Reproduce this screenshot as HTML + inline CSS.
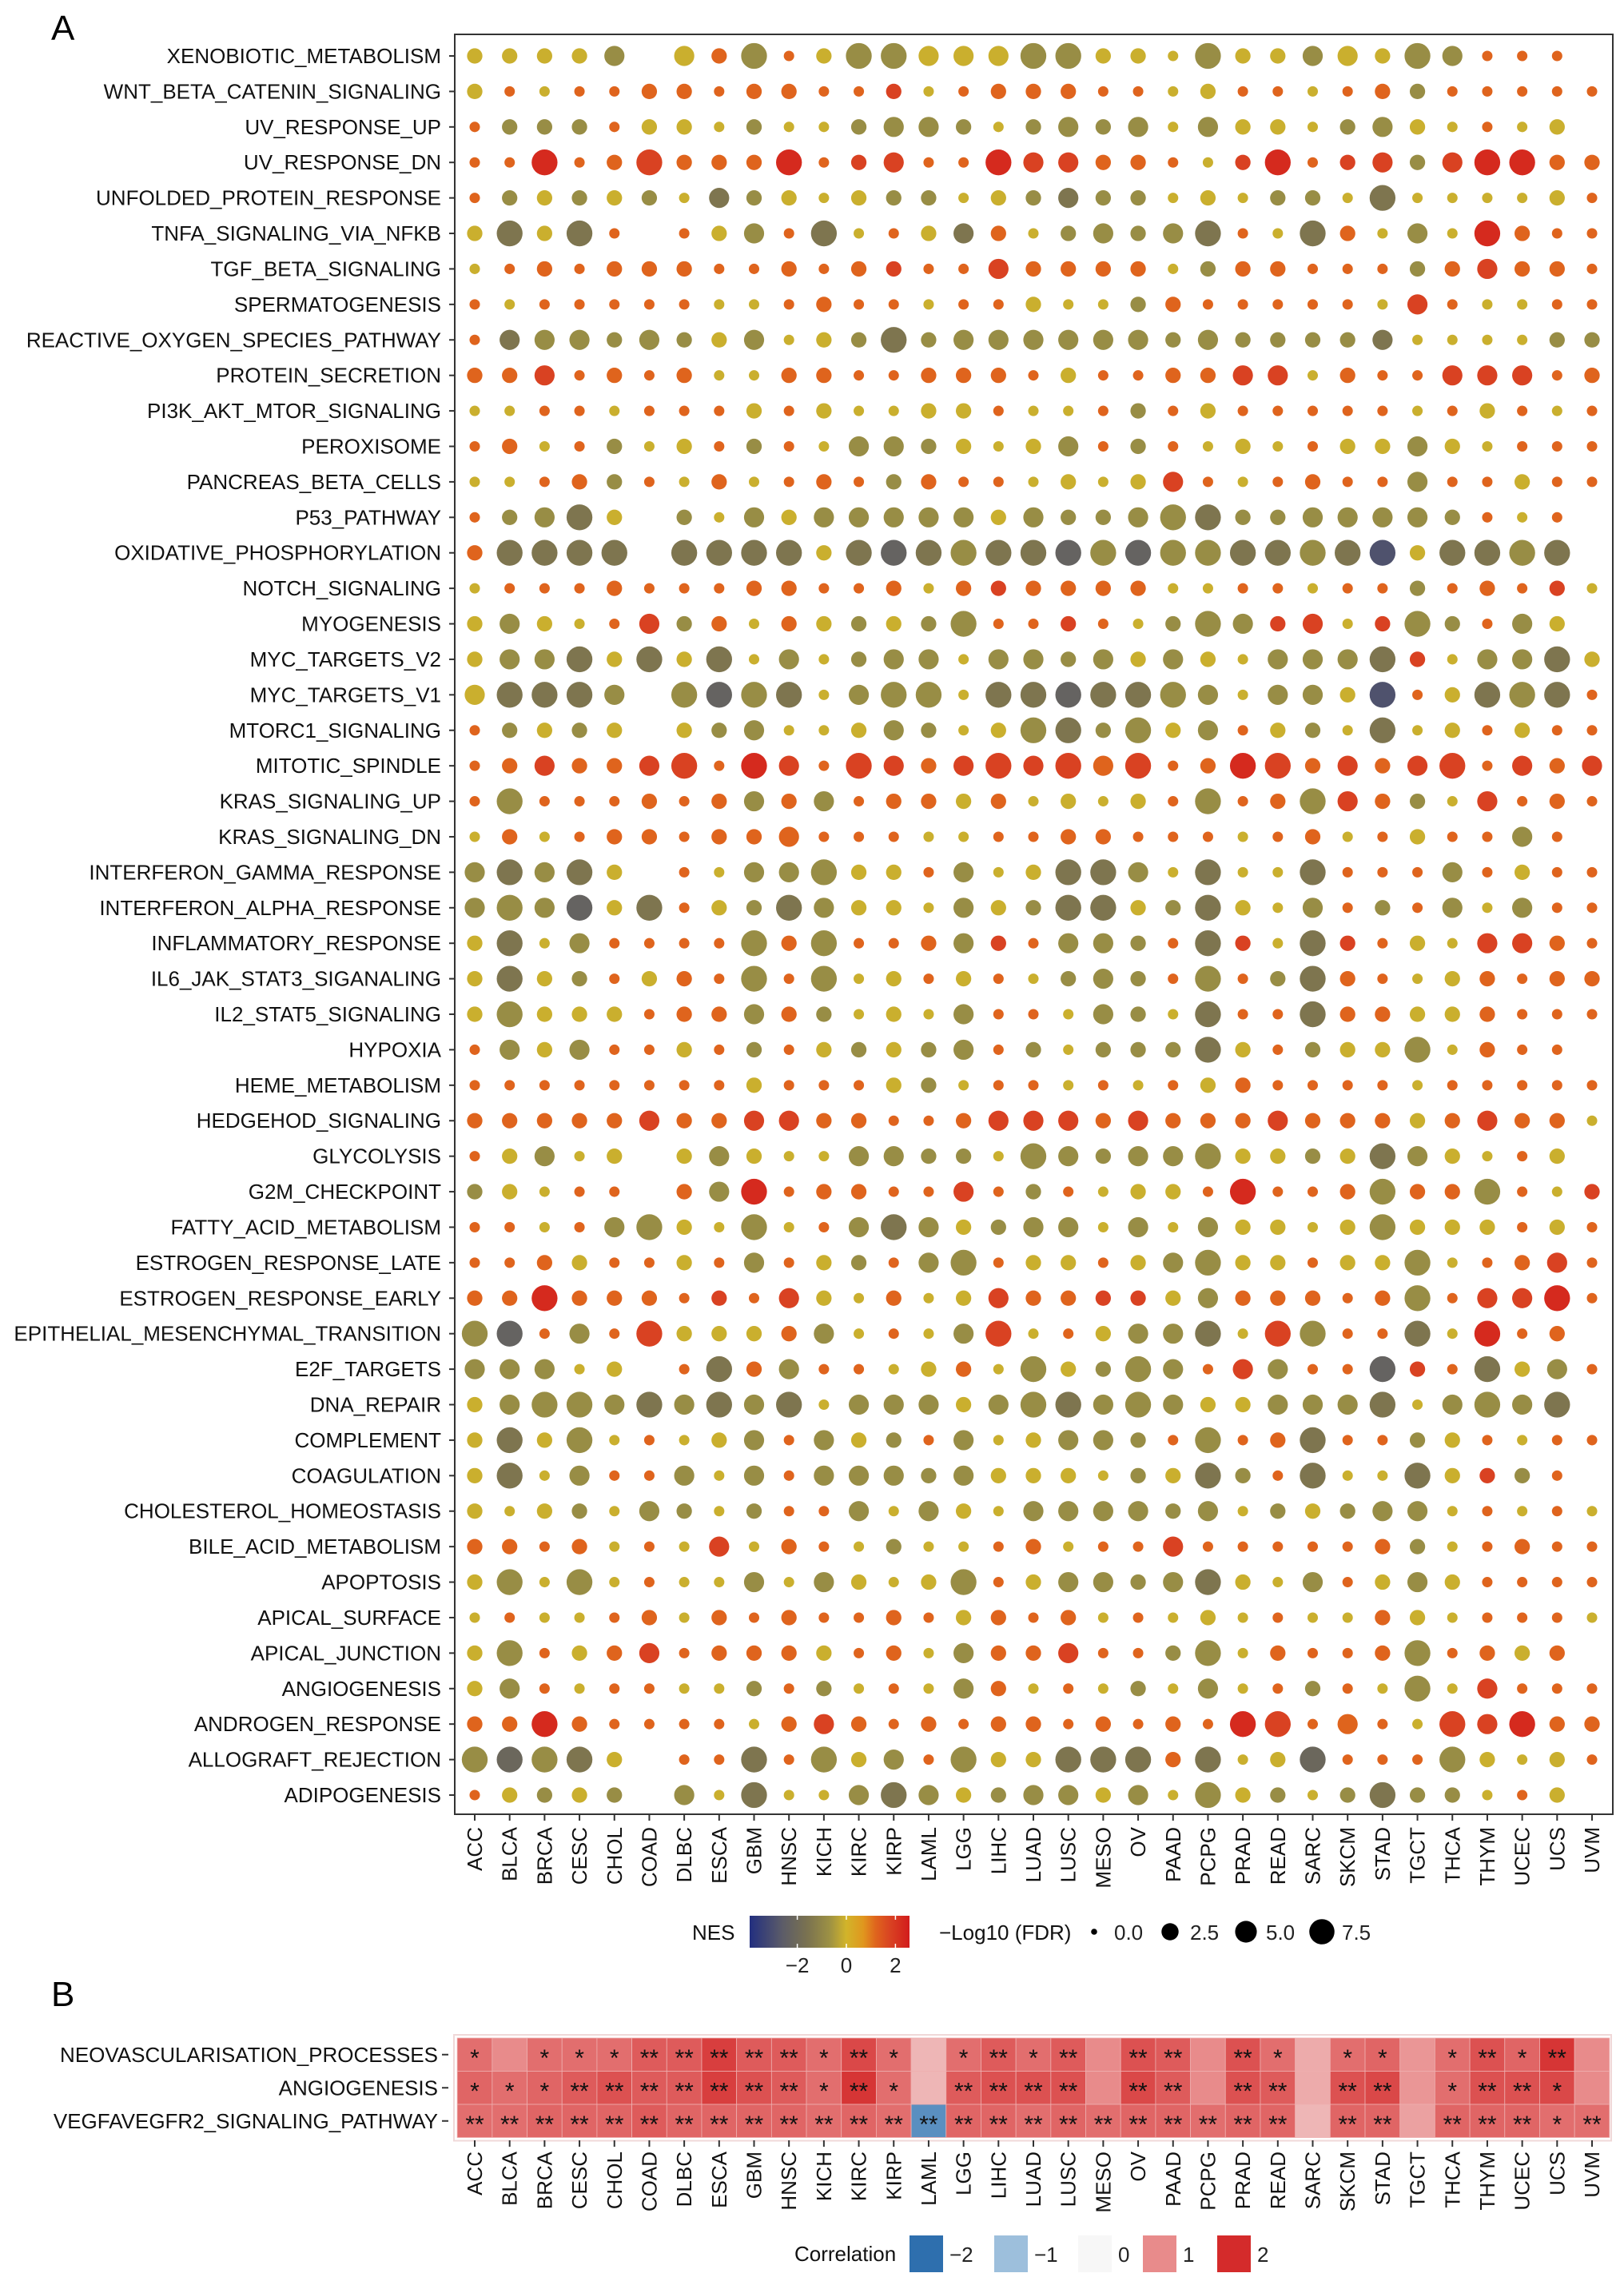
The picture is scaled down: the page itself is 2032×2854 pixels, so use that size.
<!DOCTYPE html>
<html><head><meta charset="utf-8">
<style>
html,body{margin:0;padding:0;background:#fff;}
svg{display:block;font-family:"Liberation Sans",sans-serif;}
</style></head>
<body>
<svg id="fig" width="2032" height="2854" viewBox="0 0 2032 2854" xmlns="http://www.w3.org/2000/svg">
<rect width="2032" height="2854" fill="#fff"/>
<text x="64" y="50" font-size="44">A</text>
<text x="64" y="2510" font-size="44">B</text>
<g id="gA"></g>
<g id="gB"></g>
<g id="gL"></g>
</svg>
<script>
const cancers = ["ACC","BLCA","BRCA","CESC","CHOL","COAD","DLBC","ESCA","GBM","HNSC","KICH","KIRC","KIRP","LAML","LGG","LIHC","LUAD","LUSC","MESO","OV","PAAD","PCPG","PRAD","READ","SARC","SKCM","STAD","TGCT","THCA","THYM","UCEC","UCS","UVM"];
const pathways = ["XENOBIOTIC_METABOLISM","WNT_BETA_CATENIN_SIGNALING","UV_RESPONSE_UP","UV_RESPONSE_DN","UNFOLDED_PROTEIN_RESPONSE","TNFA_SIGNALING_VIA_NFKB","TGF_BETA_SIGNALING","SPERMATOGENESIS","REACTIVE_OXYGEN_SPECIES_PATHWAY","PROTEIN_SECRETION","PI3K_AKT_MTOR_SIGNALING","PEROXISOME","PANCREAS_BETA_CELLS","P53_PATHWAY","OXIDATIVE_PHOSPHORYLATION","NOTCH_SIGNALING","MYOGENESIS","MYC_TARGETS_V2","MYC_TARGETS_V1","MTORC1_SIGNALING","MITOTIC_SPINDLE","KRAS_SIGNALING_UP","KRAS_SIGNALING_DN","INTERFERON_GAMMA_RESPONSE","INTERFERON_ALPHA_RESPONSE","INFLAMMATORY_RESPONSE","IL6_JAK_STAT3_SIGANALING","IL2_STAT5_SIGNALING","HYPOXIA","HEME_METABOLISM","HEDGEHOD_SIGNALING","GLYCOLYSIS","G2M_CHECKPOINT","FATTY_ACID_METABOLISM","ESTROGEN_RESPONSE_LATE","ESTROGEN_RESPONSE_EARLY","EPITHELIAL_MESENCHYMAL_TRANSITION","E2F_TARGETS","DNA_REPAIR","COMPLEMENT","COAGULATION","CHOLESTEROL_HOMEOSTASIS","BILE_ACID_METABOLISM","APOPTOSIS","APICAL_SURFACE","APICAL_JUNCTION","ANGIOGENESIS","ANDROGEN_RESPONSE","ALLOGRAFT_REJECTION","ADIPOGENESIS"];
// cell codes: letter = NES level, digit = -log10(FDR) level, '-' = missing
const nesLevels = {B:-2.9,n:-2.3,G:-2.1,g:-1.5,k:-0.8,y:-0.1,o:1.2,r:1.8,R:2.3};
const fdrLevels = [0.3,1.5,3.5,7];
const cellRows = [
"y1 y1 y1 y1 k2 - y2 o1 k3 o0 y1 k3 k3 y2 y2 y2 k3 k3 y1 y1 y0 k3 y1 y1 k2 y2 y1 k3 k2 o0 o0 o0 -",
"y1 o0 y0 o0 o0 o1 o1 o0 o1 o1 o0 o0 r1 y0 o0 o1 o1 o1 o0 o0 y0 y1 o0 o0 y0 o0 o1 k1 o0 o0 o0 o0 o0",
"o0 k1 k1 k1 o0 y1 y1 y0 k1 y0 y0 k1 k2 k2 k1 y0 k1 k2 k1 k2 y0 k2 y1 y1 y0 k1 k2 y1 y0 o0 y0 y1 -",
"o0 o0 R3 o0 o1 r3 o1 o1 o1 R3 o0 r1 r2 o0 o0 R3 r2 r2 o1 o1 o0 y0 r1 R3 o0 r1 r2 k1 r2 R3 R3 o1 o1",
"o0 k1 y1 k1 y1 k1 y0 g2 k1 y1 y0 y1 k1 k1 y0 y1 k1 g2 k1 k1 y0 y1 y0 k1 k1 y0 g3 y0 y0 y0 y0 y1 o0",
"y1 g3 y1 g3 o0 - o0 y1 k2 o0 g3 y0 o0 y1 g2 o1 y0 k1 k2 k1 k2 g3 o0 y0 g3 o1 y0 k2 y0 R3 o1 o0 o0",
"y0 o0 o1 o0 o1 o1 o1 o0 o0 o1 o0 o1 r1 o0 o0 r2 o1 o1 o1 o1 y0 k1 o1 o1 o0 o0 o0 k1 o1 r2 o1 o1 o0",
"o0 y0 o0 o0 o0 o0 o0 y0 y0 o0 o1 o0 o0 y0 o0 o0 y1 y0 y0 k1 o1 o0 o0 o0 o0 o0 y0 r2 o0 y0 y0 o0 o0",
"o0 g2 k2 k2 k1 k2 k1 y1 k2 y0 y1 k1 g3 k1 k2 k2 k2 k2 k2 k2 k1 k2 k1 k1 k1 k1 g2 y0 y0 y0 y0 k1 k1",
"o1 o1 r2 o0 o1 o0 o1 y0 y0 o1 o1 o0 o0 o1 o1 o1 o0 y1 o0 o0 o1 o1 r2 r2 y0 o1 o0 o0 r2 r2 r2 o0 o1",
"y0 y0 o0 o0 y0 o0 o0 o0 y1 o0 y1 y0 y0 y1 y1 o0 y0 y0 o0 k1 o0 y1 o0 o0 o0 o0 o0 y0 o0 y1 o0 y0 o0",
"o0 o1 y0 o0 k1 y0 y1 o0 k1 o0 y0 k2 k2 k1 y1 y0 y1 k2 o0 k1 o0 y0 y1 y0 o0 y1 y1 k2 y1 y0 o0 o0 o0",
"y0 y0 o0 o1 k1 o0 y0 o1 y0 o0 o1 o0 k1 o1 o0 o0 y0 y1 y0 y1 r2 o0 y0 o0 o1 o0 o0 k2 o0 o0 y1 o0 o0",
"o0 k1 k2 g3 y1 - k1 y0 k2 y1 k2 k2 k2 k2 k2 y1 k2 k1 k1 k2 k3 g3 k1 k1 k2 k2 k2 k2 k1 o0 y0 o0 -",
"o1 g3 g3 g3 g3 - g3 g3 g3 g3 y1 g3 n3 g3 k3 g3 g3 n3 k3 n3 k3 k3 g3 g3 k3 g3 B3 y1 g3 g3 k3 g3 -",
"y0 o0 o0 o0 o1 o0 o0 o0 o1 o1 o0 o0 o1 y0 o1 r1 o1 o1 o1 o1 y0 y0 o0 o0 y0 o0 o0 k1 o0 o1 o0 r1 y0",
"y1 k2 y1 y0 o0 r2 k1 o1 y0 o1 y1 k1 y1 k1 k3 o0 o0 r1 o0 y0 k1 k3 k2 r1 r2 y0 r1 k3 k1 o0 k2 y1 -",
"y1 k2 k2 g3 y1 g3 y1 g3 y0 k2 y0 k1 k2 k2 y0 k2 k2 k1 k2 y1 k2 y1 y0 k2 k2 k2 g3 r1 y0 k2 k2 g3 y1",
"y2 g3 g3 g3 k2 - k3 n3 k3 g3 y0 k2 k3 k3 y0 g3 g3 n3 g3 g3 k3 k2 y0 k2 k2 y1 B3 o0 y1 g3 k3 g3 o0",
"o0 k1 y1 k1 y1 - y1 k1 k2 y0 y0 y1 k2 k1 y0 y1 k3 g3 k1 k3 y1 k2 o0 y1 k1 y0 g3 y0 y1 o0 y1 o0 o0",
"o0 o1 r2 o1 o1 r2 r3 o0 R3 r2 o0 r3 r2 o1 r2 r3 r2 r3 o2 r3 o0 o1 R3 r3 o1 r2 o1 r2 r3 o0 r2 o1 r2",
"o0 k3 o0 o0 o0 o1 o0 o1 k2 o1 k2 o0 o1 o1 y1 o1 y0 y1 y0 y1 o0 k3 o0 o1 k3 r2 o1 k1 y0 r2 o0 o1 o0",
"y0 o1 y0 o0 o1 o1 o0 o1 o1 o2 o0 o0 o0 y0 y0 o0 o0 o1 o1 o0 o0 o0 y0 o0 o1 y0 o0 y1 o0 o0 k2 o0 -",
"k2 g3 k2 g3 y1 - o0 y0 k2 k2 k3 y1 y1 o0 k2 y0 y1 g3 g3 k2 y0 g3 y0 y0 g3 o0 o0 o0 k2 o0 y1 o0 o0",
"k2 k3 k2 n3 y1 g3 o0 y1 k1 g3 k2 y1 y1 y0 k2 y1 k1 g3 g3 y1 k1 g3 y1 y0 k2 o0 k1 o0 k2 y0 k2 o0 o0",
"y1 g3 y0 k2 o0 o0 o0 o0 k3 o1 k3 o0 o0 o1 k2 r1 o0 k2 k2 k1 o0 g3 r1 y0 g3 r1 o0 y1 y0 r2 r2 o1 o0",
"y1 g3 y1 k1 o0 y1 o1 o0 k3 o0 k3 y0 y1 o0 y1 o0 y0 k1 k2 k1 o0 k3 o0 k1 g3 o1 o0 y0 y1 o1 o0 o1 o1",
"y1 k3 y1 y1 y1 o0 o1 o1 k2 o1 k1 y0 y1 y0 k2 o0 o0 y0 k2 k1 y0 g3 o0 o0 g3 o1 o1 y1 y1 o1 o0 o0 o0",
"o0 k2 y1 k2 o0 o0 y1 o0 k1 o0 y1 k1 y1 k1 k2 o0 k1 y0 k1 k1 k1 g3 y1 o0 k1 y1 y1 k3 y0 o1 o0 o0 -",
"o0 o0 o0 o0 o0 o0 o0 o0 y1 o0 o0 o0 y1 k1 y0 o0 o0 y0 o0 y0 o0 y1 o1 o0 o0 o0 o0 y0 o0 o0 o0 o0 o0",
"o1 o1 o1 o1 o1 r2 o1 o1 r2 r2 o1 o1 o0 o0 o1 r2 r2 r2 o1 r2 o1 o1 o1 r2 o1 o1 o1 y1 o1 r2 o1 o1 y0",
"o0 y1 k2 y0 y1 - y1 k2 y1 y0 y0 k2 k2 k1 k1 y0 k3 k2 k1 k2 k2 k3 y1 y1 k1 y1 g3 k2 y1 y0 o0 y1 -",
"k1 y1 y0 o0 o0 - o1 k2 R3 o0 o1 o1 o0 o0 r2 o0 k1 o0 y0 y1 y1 o0 R3 o0 o0 o1 k3 o1 o1 k3 o0 y0 r1",
"o0 o0 y0 o0 k2 k3 y1 y0 k3 y0 o0 k2 g3 k2 y1 k1 k2 k2 y0 k2 y0 k2 y1 y1 y0 y1 k3 y1 y1 y1 o0 y1 o0",
"o0 o0 o1 y1 o0 o0 y1 o0 k2 o0 y1 k1 o0 k2 k3 o0 y1 y1 o0 y1 k2 k3 y1 y1 o0 y1 y1 k3 y0 o0 o1 r2 o0",
"o1 o1 R3 o1 o1 o1 o0 r1 o0 r2 y1 y0 o1 y0 y1 r2 o1 o1 r1 r1 y1 k2 o1 o1 o1 o0 o1 k3 o0 r2 r2 R3 o0",
"k3 n3 o0 k2 o0 r3 y1 y1 y1 o1 k2 y0 o0 y0 k2 r3 y0 o0 y1 k2 k2 g3 y0 r3 k3 o0 o0 g3 y0 R3 o0 o1 -",
"k2 k2 k2 y0 y1 - o0 g3 o1 k2 o0 o0 y0 y1 o1 y0 k3 y1 k1 k3 k2 o0 r2 k2 o0 o0 n3 r1 o0 g3 y1 k2 o0",
"y1 k2 k3 k3 k2 g3 k2 g3 k2 g3 y0 k2 k2 k2 y1 k2 k3 g3 k2 k3 k2 y1 y1 k2 k2 k2 g3 y0 k2 k3 k2 g3 -",
"y1 g3 y1 k3 y0 o0 y0 y1 k2 o0 k2 y1 k1 o0 k2 y0 y1 k2 k2 k1 o0 k3 o0 o1 g3 o0 o0 k1 y1 o0 y0 o0 o0",
"y1 g3 y0 k2 o0 o0 k2 y0 k2 o0 k2 k2 k2 k1 k2 y1 y1 y1 y0 k1 y1 g3 k1 o0 g3 y0 y0 g3 y1 r1 k1 o0 -",
"y1 y0 y1 k1 y0 k2 k1 y0 k1 o0 o0 k2 y0 k2 y1 y0 k2 k2 k2 k2 k1 k2 y0 k1 y1 k1 k2 k2 y0 o0 y0 o0 y0",
"o1 o1 o0 o1 y0 o0 y0 r2 y0 o1 o0 y0 k1 y0 y0 o0 o1 y0 o0 o0 r2 o0 o0 o0 o0 o0 o1 k1 y0 o0 o1 o0 o0",
"y1 k3 y0 k3 y0 o0 y0 y0 k2 y0 k2 y1 y0 y1 k3 o0 y1 k2 k2 k1 k2 g3 y1 y0 k2 o0 y1 k2 y1 o0 o0 o0 o0",
"y0 o0 y0 y0 o0 o1 y0 o1 o0 o1 o0 o0 o1 o0 y1 o1 o0 o1 y0 o0 y0 y1 y0 o0 y0 y0 o1 y1 y0 o0 o0 o0 y0",
"y1 k3 o0 y1 o1 r2 o0 o1 o1 o1 y1 o0 o1 y0 k2 o1 o1 r2 o0 o0 k1 k3 y0 o1 o0 o0 o1 k3 o0 o1 y1 o1 -",
"y1 k2 o0 y0 o0 o0 y0 y0 k1 o0 k1 y0 o0 y0 k2 o1 y0 o0 y0 k1 y0 k2 y0 o0 k1 o0 y0 k3 y0 r2 o0 o0 o0",
"o1 o1 R3 o1 o0 o0 o0 o0 y0 o1 r2 o1 o0 o1 o0 o1 o1 o0 o1 o0 o1 o0 R3 r3 o0 o2 o0 y0 r3 r2 R3 o1 o1",
"k3 G3 k3 g3 y1 - o0 o0 g3 o0 k3 y1 k2 o0 k3 y1 y1 g3 g3 g3 o1 g3 y0 y1 G3 o0 o0 o0 k3 y1 y0 y1 o0",
"o0 y1 k1 y1 k1 - k2 y0 g3 y0 y0 k2 g3 k2 y1 k1 k2 k2 y1 k2 y0 k3 y1 k1 y0 k1 g3 k1 k1 y0 o0 y1 -"
].map(s => s.split(" "));
const sizeLegendValues = [0.0, 2.5, 5.0, 7.5];
const nesTicks = [-2, 0, 2];
// Panel B
const bPathways = ["NEOVASCULARISATION_PROCESSES","ANGIOGENESIS","VEGFAVEGFR2_SIGNALING_PATHWAY"];
const bCorr = [
[1.3,1.0,1.3,1.3,1.3,1.5,1.5,1.8,1.5,1.5,1.3,1.7,1.3,0.6,1.3,1.5,1.3,1.5,1.0,1.6,1.5,1.0,1.6,1.3,0.7,1.3,1.4,0.9,1.3,1.6,1.4,1.9,1.0],
[1.4,1.3,1.4,1.5,1.6,1.5,1.5,1.8,1.6,1.5,1.3,1.9,1.3,0.6,1.5,1.6,1.6,1.6,1.0,1.7,1.5,1.0,1.6,1.5,0.7,1.6,1.7,0.9,1.3,1.6,1.6,1.7,1.0],
[1.3,1.3,1.4,1.4,1.4,1.5,1.4,1.4,1.4,1.4,1.3,1.4,1.3,-1.6,1.4,1.4,1.3,1.4,1.3,1.4,1.4,1.3,1.4,1.4,0.6,1.4,1.4,0.8,1.4,1.4,1.4,1.3,1.3]
];
const bStars = [
["*","","*","*","*","**","**","**","**","**","*","**","*","","*","**","*","**","","**","**","","**","*","","*","*","","*","**","*","**",""],
["*","*","*","**","**","**","**","**","**","**","*","**","*","","**","**","**","**","","**","**","","**","**","","**","**","","*","**","**","*",""],
["**","**","**","**","**","**","**","**","**","**","**","**","**","**","**","**","**","**","**","**","**","**","**","**","","**","**","","**","**","**","*","**"]
];
const corrLegend = [-2,-1,0,1,2];

const NS="http://www.w3.org/2000/svg";
function mk(tag, attrs, parent){const e=document.createElementNS(NS,tag);for(const k in attrs)e.setAttribute(k,attrs[k]);parent.appendChild(e);return e;}
function hex(c){return [parseInt(c.slice(1,3),16),parseInt(c.slice(3,5),16),parseInt(c.slice(5,7),16)];}
function interp(stops,v){if(v<=stops[0][0])return stops[0][1];for(let i=1;i<stops.length;i++){if(v<=stops[i][0]){const a=stops[i-1],b=stops[i];const t=(v-a[0])/(b[0]-a[0]);const A=hex(a[1]),B=hex(b[1]);return "rgb("+A.map((x,j)=>Math.round(x+(B[j]-x)*t)).join(",")+")";}}return stops[stops.length-1][1];}
const nesStops=[[-3.9,"#24307f"],[-2.6,"#5c5c68"],[-1.6,"#7a7250"],[-0.7,"#9c9044"],[0,"#d2b42a"],[0.7,"#e0961e"],[1.2,"#df641d"],[1.8,"#d94222"],[2.6,"#d21c1c"]];
const corrStops=[[-2,"#2e6fae"],[-1,"#9dbfdc"],[0,"#f7f7f7"],[1,"#e88b8b"],[2,"#d42b2b"]];

// scales
const x0=594, dx=(1992-594)/32;
const xPos=i=>x0+i*dx;
const y0=70, dy=(2246-70)/49;
const yPos=j=>y0+j*dy;
const rSize=v=>4+4.6*Math.sqrt(v);
const nesX=v=>1059+v*30.7;

const gA=document.getElementById('gA');
mk('rect',{x:569,y:43,width:1449,height:2227,fill:"none",stroke:"#333","stroke-width":2},gA);
pathways.forEach((p,j)=>{
  const y=yPos(j);
  const t=mk('text',{x:552,y:y+9,"font-size":26,"text-anchor":"end",fill:"#111"},gA);
  t.textContent=p;
  
  
  mk('line',{x1:562,x2:569,y1:y,y2:y,stroke:"#333","stroke-width":2},gA);
  cellRows[j].forEach((c,i)=>{
    if(c==="-")return;
    const nes=nesLevels[c[0]], f=fdrLevels[+c[1]];
    const dot=mk('circle',{cx:xPos(i),cy:y,r:rSize(f),fill:interp(nesStops,nes)},gA);
    
    
  });
});
cancers.forEach((c,i)=>{
  const x=xPos(i);
  mk('line',{x1:x,x2:x,y1:2270,y2:2278,stroke:"#333","stroke-width":2},gA);
  const t=mk('text',{x:0,y:0,"font-size":26,"text-anchor":"end",transform:`translate(${x+9},2286) rotate(-90)`,fill:"#111"},gA);
  t.textContent=c;
  
  
});

// legends A
const gL=document.getElementById('gL');
let t=mk('text',{x:866,y:2427,"font-size":26,fill:"#111"},gL);t.textContent="NES";

const defs=mk('defs',{},gL);
const lg=mk('linearGradient',{id:"nesg",x1:0,x2:1,y1:0,y2:0},defs);
nesStops.forEach(s=>mk('stop',{offset:((nesX(s[0])-938)/200).toFixed(3),"stop-color":s[1]},lg));
const bar=mk('rect',{x:938,y:2397,width:200,height:40,fill:"url(#nesg)"},gL);

nesTicks.forEach(v=>{
  mk('line',{x1:nesX(v),x2:nesX(v),y1:2397,y2:2402,stroke:"#fff","stroke-width":1.5},gL);
  mk('line',{x1:nesX(v),x2:nesX(v),y1:2432,y2:2437,stroke:"#fff","stroke-width":1.5},gL);
  const tt=mk('text',{x:nesX(v),y:2468,"font-size":26,"text-anchor":"middle",fill:"#222"},gL);
  tt.textContent=(v<0?"\u2212":"")+Math.abs(v);
  
});
t=mk('text',{x:1175,y:2427,"font-size":26,fill:"#111"},gL);t.textContent="\u2212Log10 (FDR)";

const sizeX=[1369,1464,1559,1654];
sizeLegendValues.forEach((v,k)=>{
  const c=mk('circle',{cx:sizeX[k],cy:2417,r:rSize(v)*0.95,fill:"#000"},gL);
  
  const tt=mk('text',{x:sizeX[k]+25,y:2427,"font-size":26,fill:"#222"},gL);
  tt.textContent=v.toFixed(1);
  
});

// Panel B
const gB=document.getElementById('gB');
const bTop=2550, bh=41.5;
mk('rect',{x:568,y:bTop-4,width:1448,height:3*bh+8,fill:"none",stroke:"#f0d8d8","stroke-width":2},gB);
bPathways.forEach((p,r)=>{
  const yc=bTop+bh*r+bh/2;
  const tt=mk('text',{x:548,y:yc+9,"font-size":26,"text-anchor":"end",fill:"#111"},gB);
  tt.textContent=p;
  
  mk('line',{x1:553,x2:561,y1:yc,y2:yc,stroke:"#333","stroke-width":2},gB);
  cancers.forEach((c,i)=>{
    const x=xPos(i)-dx/2;
    const rc=mk('rect',{x:x,y:bTop+bh*r,width:dx,height:bh,fill:interp(corrStops,bCorr[r][i]),stroke:"#eeb0b0","stroke-width":0.8},gB);
    
    if(bStars[r][i]){
      const s=mk('text',{x:xPos(i),y:yc+14,"font-size":30,"text-anchor":"middle",fill:"#111"},gB);
      s.textContent=bStars[r][i];
      
    }
  });
});
cancers.forEach((c,i)=>{
  const x=xPos(i);
  mk('line',{x1:x,x2:x,y1:2678,y2:2686,stroke:"#333","stroke-width":2},gB);
  const tt=mk('text',{x:0,y:0,"font-size":26,"text-anchor":"end",transform:`translate(${x+9},2692) rotate(-90)`,fill:"#111"},gB);
  tt.textContent=c;
  
});
t=mk('text',{x:994,y:2829,"font-size":26,fill:"#111"},gL);t.textContent="Correlation";

const corrX=[1138,1244,1349,1430,1523];
corrLegend.forEach((v,k)=>{
  const rc=mk('rect',{x:corrX[k],y:2797,width:42,height:46,fill:interp(corrStops,v)},gL);
  
  const tt=mk('text',{x:corrX[k]+50,y:2830,"font-size":26,fill:"#222"},gL);
  tt.textContent=(v<0?"\u2212":"")+Math.abs(v);
  
});
</script>
</body></html>
